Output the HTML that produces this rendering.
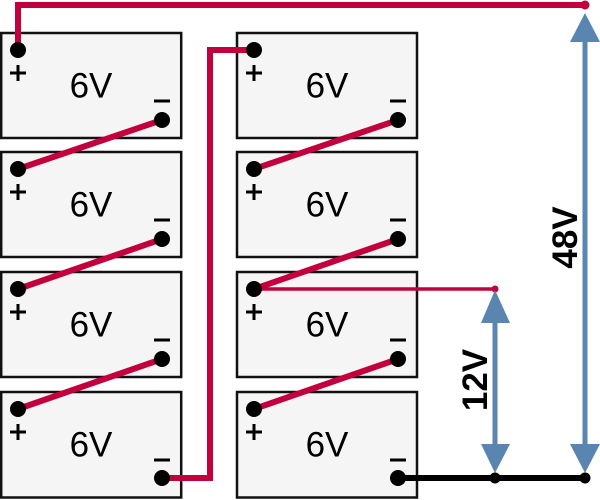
<!DOCTYPE html>
<html><head><meta charset="utf-8"><style>
html,body{margin:0;padding:0;background:#fff;}
svg{display:block;}
text{font-family:"Liberation Sans",Arial,sans-serif;}
</style></head><body>
<svg width="600" height="500" viewBox="0 0 600 500" xmlns="http://www.w3.org/2000/svg">
<!-- boxes -->
<g fill="#f5f5f5" stroke="#111" stroke-width="2.5">
<rect x="1.2" y="33" width="180" height="105"/>
<rect x="1.2" y="152" width="180" height="105"/>
<rect x="1.2" y="272" width="180" height="105"/>
<rect x="1.2" y="392" width="180" height="105.5"/>
<rect x="237" y="33" width="180" height="105"/>
<rect x="237" y="152" width="180" height="105"/>
<rect x="237" y="272" width="180" height="105"/>
<rect x="237" y="392" width="180" height="105.5"/>
</g>
<!-- 6V labels -->
<g font-size="35" text-anchor="middle" fill="#000">
<text x="91" y="97.5">6V</text>
<text x="91" y="216.5">6V</text>
<text x="91" y="336.5">6V</text>
<text x="91" y="456.5">6V</text>
<text x="327" y="97.5">6V</text>
<text x="327" y="216.5">6V</text>
<text x="327" y="336.5">6V</text>
<text x="327" y="456.5">6V</text>
</g>
<!-- plus / minus signs -->
<g stroke="#000" stroke-width="3">
<path d="M10,73H26M18,65V81 M10,192H26M18,184V200 M10,312H26M18,304V320 M10,432H26M18,424V440"/>
<path d="M246,73H262M254,65V81 M246,192H262M254,184V200 M246,312H262M254,304V320 M246,432H262M254,424V440"/>
<path d="M154,101H170 M154,220H170 M154,340H170 M154,460H170"/>
<path d="M390,101H406 M390,220H406 M390,340H406 M390,460H406"/>
</g>
<!-- red wires -->
<g stroke="#c1003d" stroke-width="6" fill="none">
<path d="M18,50V5H585"/>
<path d="M162,478H210V50H254"/>
<path d="M162,120L18,169 M162,239L18,289 M162,359L18,409"/>
<path d="M398,120L254,169 M398,239L254,289 M398,359L254,409"/>
</g>
<path d="M254,289H495" stroke="#c1003d" stroke-width="3.5" fill="none"/>
<circle cx="495" cy="289" r="3.5" fill="#c1003d"/>
<circle cx="585" cy="5" r="4.5" fill="#c1003d"/>
<!-- black bottom wire -->
<path d="M398,478H585" stroke="#000" stroke-width="6"/>
<!-- arrows -->
<g fill="#5b85b1">
<rect x="582.5" y="40" width="5" height="406"/>
<polygon points="585,13 570,42 600,42"/>
<polygon points="585,473 570,444 600,444"/>
<rect x="492.5" y="321" width="5" height="125"/>
<polygon points="495,290 481,323 510,323"/>
<polygon points="495,473 481,444 510,444"/>
</g>
<circle cx="495" cy="478" r="5.5" fill="#000"/>
<circle cx="585" cy="478" r="5.5" fill="#000"/>
<!-- terminal dots -->
<g fill="#000">
<circle cx="18" cy="50" r="8"/><circle cx="18" cy="169" r="8"/><circle cx="18" cy="289" r="8"/><circle cx="18" cy="409" r="8"/>
<circle cx="162" cy="120" r="8"/><circle cx="162" cy="239" r="8"/><circle cx="162" cy="359" r="8"/><circle cx="162" cy="478" r="8"/>
<circle cx="254" cy="50" r="8"/><circle cx="254" cy="169" r="8"/><circle cx="254" cy="289" r="8"/><circle cx="254" cy="409" r="8"/>
<circle cx="398" cy="120" r="8"/><circle cx="398" cy="239" r="8"/><circle cx="398" cy="359" r="8"/><circle cx="398" cy="478" r="8"/>
</g>
<!-- voltage labels -->
<g font-size="35" font-weight="bold" text-anchor="middle" fill="#000">
<text transform="translate(487,380) rotate(-90)">12V</text>
<text transform="translate(577,237.5) rotate(-90)">48V</text>
</g>
</svg>
</body></html>
